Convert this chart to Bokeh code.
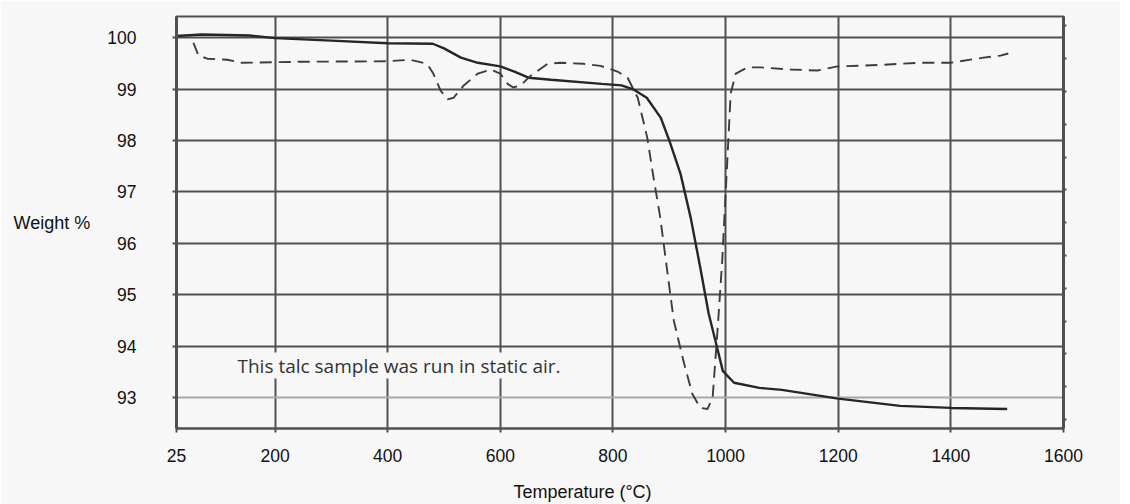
from bokeh.plotting import figure
from bokeh.models import (Range1d, LinearAxis, FixedTicker, Label,
                          CustomJSTickFormatter, Grid)
from bokeh.embed import file_html
from bokeh.resources import INLINE

# ---------------- data ----------------
temp_tga = [25, 70, 155, 200, 300, 400, 480, 500, 530, 560,
            600, 625, 650, 690, 780, 815, 835, 860, 885, 900,
            920, 938, 955, 970, 985, 995, 1015, 1060, 1100, 1200,
            1310, 1400, 1500]
weight_tga = [100.03, 100.06, 100.04, 99.99, 99.94, 99.89, 99.88, 99.79, 99.61, 99.51,
              99.44, 99.34, 99.22, 99.18, 99.10, 99.07, 99.00, 98.83, 98.44, 98.00,
              97.35, 96.50, 95.53, 94.63, 93.97, 93.52, 93.29, 93.19, 93.15, 92.98,
              92.84, 92.80, 92.78]

temp_dta = [55, 64, 80, 115, 140, 245, 400, 440, 470, 481,
            494, 506, 517, 535, 560, 583, 600, 613, 623, 636,
            654, 684, 707, 748, 778, 808, 826, 844, 861, 872,
            884, 897, 908, 925, 941, 955, 968, 977, 986, 994,
            1003, 1009, 1018, 1039, 1062, 1115, 1163, 1199, 1280, 1341,
            1399, 1458, 1488, 1502]
signal_dta = [99.90, 99.65, 99.59, 99.57, 99.51, 99.53, 99.54, 99.57, 99.49, 99.30,
              98.97, 98.80, 98.83, 99.07, 99.30, 99.38, 99.30, 99.10, 99.03, 99.07,
              99.26, 99.49, 99.51, 99.49, 99.45, 99.34, 99.22, 98.83, 98.05, 97.28,
              96.50, 95.41, 94.50, 93.72, 93.07, 92.80, 92.78, 93.00, 94.36, 95.66,
              97.60, 98.91, 99.30, 99.42, 99.42, 99.38, 99.36, 99.44, 99.47, 99.51,
              99.51, 99.61, 99.65, 99.69]

x_ticks = [25, 200, 400, 600, 800, 1000, 1200, 1400, 1600]
y_ticks = [93, 94, 95, 96, 97, 98, 99, 100]
right_ticks = list(range(13))

x_title = "Temperature (°C)"
y_title = "Weight %"
note = "This talc sample was run in static air."

# ---------------- layout ----------------
X_MIN, X_MAX = 25, 1600
Y_MIN, Y_MAX = 92.40, 100.41
W, H = 1120, 504
ML, MT = 176, 16
MR, MB = W - 1063, H - 428
FW, FH = W - ML - MR, H - MT - MB
BG = "#f7f7f7"
GRID = "#505050"
FONT = "Liberation Sans"


def cx(px):  # canvas px -> data x
    return X_MIN + (px - ML) / FW * (X_MAX - X_MIN)


def cy(py):  # canvas px -> data y
    return Y_MAX - (py - MT) / FH * (Y_MAX - Y_MIN)


p = figure(width=W, height=H, output_backend="svg", toolbar_location=None,
           x_range=Range1d(X_MIN, X_MAX), y_range=Range1d(Y_MIN, Y_MAX),
           min_border_left=ML, min_border_right=MR, min_border_top=MT,
           min_border_bottom=MB, background_fill_color=BG,
           border_fill_color=BG, outline_line_color=GRID,
           outline_line_width=2)

# grids
p.xgrid.ticker = FixedTicker(ticks=x_ticks)
p.ygrid.ticker = FixedTicker(ticks=y_ticks[1:])
for g in (p.xgrid, p.ygrid):
    g.grid_line_color = GRID
    g.grid_line_width = 2
p.add_layout(Grid(dimension=1, ticker=FixedTicker(ticks=y_ticks[:1]),
                  grid_line_color="#a8a8a8", grid_line_width=2))

# axes
xa = p.xaxis[0]
xa.ticker = FixedTicker(ticks=x_ticks)
ya = p.yaxis[0]
ya.ticker = FixedTicker(ticks=y_ticks)
for ax in (xa, ya):
    ax.axis_line_color = GRID
    ax.major_tick_line_color = GRID
    ax.major_tick_line_width = 2
    ax.major_tick_in = 0
    ax.major_tick_out = 4
    ax.minor_tick_line_color = None
    ax.major_label_text_font = FONT
    ax.major_label_text_font_size = "17.5px"
    ax.major_label_text_color = "#111111"
    ax.axis_label_text_font = FONT
    ax.axis_label_text_font_size = "18px"
    ax.axis_label_text_font_style = "normal"
    ax.axis_label_text_color = "#111111"
xa.axis_line_width = 2
xa.major_label_standoff = 16
# the reference title sits left of centre: trailing no-break spaces shift it
xa.axis_label = x_title + "\u00a0" * 15
xa.axis_label_standoff = 17
ya.axis_line_width = 3
ya.major_label_standoff = 36
ya.axis_label = y_title
ya.axis_label_orientation = "horizontal"
ya.axis_label_standoff = 14

# right-hand tick strip
p.extra_y_ranges = {"dta": Range1d(-0.27, 12.28)}
ra = LinearAxis(y_range_name="dta", ticker=FixedTicker(ticks=right_ticks),
                formatter=CustomJSTickFormatter(code="return ''"),
                axis_line_color=GRID, axis_line_width=3,
                major_tick_line_color=GRID, major_tick_line_width=2,
                major_tick_in=0, major_tick_out=3, minor_tick_line_color=None,
                major_label_standoff=0)
p.add_layout(ra, "right")

# curves
p.line(temp_tga, weight_tga, line_color="#262626", line_width=2.4)
p.line(temp_dta, signal_dta, line_color="#3c3c3c", line_width=1.9, line_dash="12 7")

# note
p.add_layout(Label(x=cx(237), y=cy(365), text=note, text_font="Open Sans",
                   text_font_size="19px", text_color="#333333",
                   text_baseline="alphabetic", background_fill_color=BG,
                   background_fill_alpha=1))

open("out.html", "w").write(file_html(p, INLINE))
